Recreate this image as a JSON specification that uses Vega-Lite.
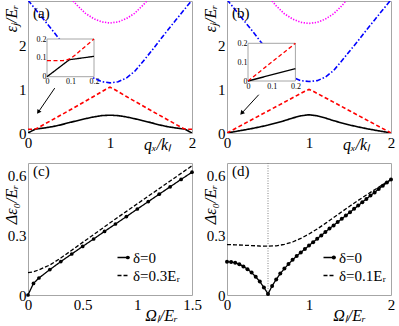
{
"$schema":"https://vega.github.io/schema/vega-lite/v6.json",
"autosize":{"type":"none"},
"padding":{"left":28,"top":1,"right":371,"bottom":325},
"background":"white",
"datasets":{
"a_main":[
{"q":0,"e":0,"j":1},{"q":0.05,"e":0.05,"j":1},{"q":0.09,"e":0.088,"j":1},{"q":0.2,"e":0.115,"j":1},{"q":0.3,"e":0.145,"j":1},{"q":0.4,"e":0.185,"j":1},{"q":0.5,"e":0.235,"j":1},{"q":0.6,"e":0.28,"j":1},{"q":0.7,"e":0.325,"j":1},{"q":0.8,"e":0.365,"j":1},{"q":0.9,"e":0.395,"j":1},{"q":1,"e":0.405,"j":1},{"q":1.1,"e":0.395,"j":1},{"q":1.2,"e":0.365,"j":1},{"q":1.3,"e":0.325,"j":1},{"q":1.4,"e":0.28,"j":1},{"q":1.5,"e":0.235,"j":1},{"q":1.6,"e":0.185,"j":1},{"q":1.7,"e":0.145,"j":1},{"q":1.8,"e":0.115,"j":1},{"q":1.91,"e":0.088,"j":1},{"q":1.95,"e":0.05,"j":1},{"q":2,"e":0,"j":1},
{"q":0,"e":0.085,"j":2},{"q":0.05,"e":0.085,"j":2},{"q":0.07,"e":0.087,"j":2},{"q":0.09,"e":0.092,"j":2},{"q":0.11,"e":0.105,"j":2},{"q":0.2,"e":0.2,"j":2},{"q":0.5,"e":0.51,"j":2},{"q":0.8,"e":0.83,"j":2},{"q":0.9,"e":0.94,"j":2},{"q":0.95,"e":0.995,"j":2},{"q":1,"e":1.04,"j":2},{"q":1.05,"e":0.995,"j":2},{"q":1.1,"e":0.94,"j":2},{"q":1.2,"e":0.83,"j":2},{"q":1.5,"e":0.51,"j":2},{"q":1.8,"e":0.2,"j":2},{"q":1.89,"e":0.105,"j":2},{"q":1.91,"e":0.092,"j":2},{"q":1.93,"e":0.087,"j":2},{"q":1.95,"e":0.085,"j":2},{"q":2,"e":0.085,"j":2},
{"q":0,"e":3.02,"j":3},{"q":0.1,"e":2.79,"j":3},{"q":0.2,"e":2.56,"j":3},{"q":0.3,"e":2.33,"j":3},{"q":0.4,"e":2.09,"j":3},{"q":0.5,"e":1.85,"j":3},{"q":0.6,"e":1.62,"j":3},{"q":0.7,"e":1.4,"j":3},{"q":0.8,"e":1.25,"j":3},{"q":0.9,"e":1.165,"j":3},{"q":1,"e":1.14,"j":3},{"q":1.1,"e":1.165,"j":3},{"q":1.2,"e":1.25,"j":3},{"q":1.3,"e":1.4,"j":3},{"q":1.4,"e":1.62,"j":3},{"q":1.5,"e":1.85,"j":3},{"q":1.6,"e":2.09,"j":3},{"q":1.7,"e":2.33,"j":3},{"q":1.8,"e":2.56,"j":3},{"q":1.9,"e":2.79,"j":3},{"q":2,"e":3.02,"j":3},
{"q":0.55,"e":3.0,"j":4},{"q":0.6,"e":2.9,"j":4},{"q":0.7,"e":2.72,"j":4},{"q":0.8,"e":2.6,"j":4},{"q":0.9,"e":2.525,"j":4},{"q":1,"e":2.5,"j":4},{"q":1.1,"e":2.525,"j":4},{"q":1.2,"e":2.6,"j":4},{"q":1.3,"e":2.72,"j":4},{"q":1.4,"e":2.9,"j":4},{"q":1.45,"e":3.0,"j":4}
],
"a_inset":[
{"q":0,"e":0,"j":1},{"q":0.095,"e":0.09,"j":1},{"q":0.2,"e":0.108,"j":1},
{"q":0,"e":0.085,"j":2},{"q":0.05,"e":0.085,"j":2},{"q":0.07,"e":0.086,"j":2},{"q":0.085,"e":0.089,"j":2},{"q":0.1,"e":0.096,"j":2},{"q":0.12,"e":0.115,"j":2},{"q":0.2,"e":0.2,"j":2}
],
"b_main":[
{"q":0,"e":0,"j":1},{"q":0.1,"e":0.033,"j":1},{"q":0.2,"e":0.066,"j":1},{"q":0.3,"e":0.1,"j":1},{"q":0.4,"e":0.138,"j":1},{"q":0.5,"e":0.18,"j":1},{"q":0.6,"e":0.228,"j":1},{"q":0.7,"e":0.28,"j":1},{"q":0.8,"e":0.34,"j":1},{"q":0.9,"e":0.39,"j":1},{"q":1,"e":0.415,"j":1},{"q":1.1,"e":0.39,"j":1},{"q":1.2,"e":0.34,"j":1},{"q":1.3,"e":0.28,"j":1},{"q":1.4,"e":0.228,"j":1},{"q":1.5,"e":0.18,"j":1},{"q":1.6,"e":0.138,"j":1},{"q":1.7,"e":0.1,"j":1},{"q":1.8,"e":0.066,"j":1},{"q":1.9,"e":0.033,"j":1},{"q":2,"e":0,"j":1},
{"q":0,"e":0,"j":2},{"q":0.5,"e":0.5,"j":2},{"q":0.9,"e":0.9,"j":2},{"q":0.95,"e":0.95,"j":2},{"q":1,"e":0.99,"j":2},{"q":1.05,"e":0.95,"j":2},{"q":1.1,"e":0.9,"j":2},{"q":1.5,"e":0.5,"j":2},{"q":2,"e":0,"j":2},
{"q":0,"e":3.03,"j":3},{"q":0.1,"e":2.8,"j":3},{"q":0.2,"e":2.57,"j":3},{"q":0.3,"e":2.34,"j":3},{"q":0.4,"e":2.1,"j":3},{"q":0.5,"e":1.87,"j":3},{"q":0.6,"e":1.64,"j":3},{"q":0.7,"e":1.42,"j":3},{"q":0.8,"e":1.27,"j":3},{"q":0.9,"e":1.19,"j":3},{"q":1,"e":1.17,"j":3},{"q":1.1,"e":1.19,"j":3},{"q":1.2,"e":1.27,"j":3},{"q":1.3,"e":1.42,"j":3},{"q":1.4,"e":1.64,"j":3},{"q":1.5,"e":1.87,"j":3},{"q":1.6,"e":2.1,"j":3},{"q":1.7,"e":2.34,"j":3},{"q":1.8,"e":2.57,"j":3},{"q":1.9,"e":2.8,"j":3},{"q":2,"e":3.03,"j":3},
{"q":0.55,"e":3.0,"j":4},{"q":0.6,"e":2.89,"j":4},{"q":0.7,"e":2.71,"j":4},{"q":0.8,"e":2.59,"j":4},{"q":0.9,"e":2.515,"j":4},{"q":1,"e":2.49,"j":4},{"q":1.1,"e":2.515,"j":4},{"q":1.2,"e":2.59,"j":4},{"q":1.3,"e":2.71,"j":4},{"q":1.4,"e":2.89,"j":4},{"q":1.45,"e":3.0,"j":4}
],
"b_inset":[
{"q":0,"e":0,"j":1},{"q":0.2,"e":0.065,"j":1},
{"q":0,"e":0,"j":2},{"q":0.2,"e":0.2,"j":2}
],
"c":[
{"w":0,"d":0,"s":"δ=0"},{"w":0.05,"d":0.058,"s":"δ=0"},{"w":0.1,"d":0.085,"s":"δ=0"},{"w":0.2,"d":0.127,"s":"δ=0"},{"w":0.3,"d":0.167,"s":"δ=0"},{"w":0.4,"d":0.205,"s":"δ=0"},{"w":0.5,"d":0.243,"s":"δ=0"},{"w":0.6,"d":0.28,"s":"δ=0"},{"w":0.7,"d":0.318,"s":"δ=0"},{"w":0.8,"d":0.355,"s":"δ=0"},{"w":0.9,"d":0.392,"s":"δ=0"},{"w":1.0,"d":0.43,"s":"δ=0"},{"w":1.1,"d":0.467,"s":"δ=0"},{"w":1.2,"d":0.504,"s":"δ=0"},{"w":1.3,"d":0.541,"s":"δ=0"},{"w":1.4,"d":0.578,"s":"δ=0"},{"w":1.5,"d":0.614,"s":"δ=0"},
{"w":0,"d":0.112,"s":"δ=0.3Eᵣ"},{"w":0.05,"d":0.116,"s":"δ=0.3Eᵣ"},{"w":0.1,"d":0.126,"s":"δ=0.3Eᵣ"},{"w":0.2,"d":0.15,"s":"δ=0.3Eᵣ"},{"w":0.3,"d":0.185,"s":"δ=0.3Eᵣ"},{"w":0.4,"d":0.224,"s":"δ=0.3Eᵣ"},{"w":0.5,"d":0.263,"s":"δ=0.3Eᵣ"},{"w":0.6,"d":0.302,"s":"δ=0.3Eᵣ"},{"w":0.7,"d":0.341,"s":"δ=0.3Eᵣ"},{"w":0.8,"d":0.38,"s":"δ=0.3Eᵣ"},{"w":0.9,"d":0.418,"s":"δ=0.3Eᵣ"},{"w":1.0,"d":0.456,"s":"δ=0.3Eᵣ"},{"w":1.1,"d":0.494,"s":"δ=0.3Eᵣ"},{"w":1.2,"d":0.532,"s":"δ=0.3Eᵣ"},{"w":1.3,"d":0.57,"s":"δ=0.3Eᵣ"},{"w":1.4,"d":0.608,"s":"δ=0.3Eᵣ"},{"w":1.5,"d":0.646,"s":"δ=0.3Eᵣ"}
],
"d":[
{"w":0,"d":0.166,"s":"δ=0"},{"w":0.05,"d":0.165,"s":"δ=0"},{"w":0.1,"d":0.161,"s":"δ=0"},{"w":0.15,"d":0.154,"s":"δ=0"},{"w":0.2,"d":0.143,"s":"δ=0"},{"w":0.25,"d":0.129,"s":"δ=0"},{"w":0.3,"d":0.112,"s":"δ=0"},{"w":0.35,"d":0.091,"s":"δ=0"},{"w":0.4,"d":0.067,"s":"δ=0"},{"w":0.45,"d":0.038,"s":"δ=0"},{"w":0.5,"d":0.005,"s":"δ=0"},{"w":0.55,"d":0.045,"s":"δ=0"},{"w":0.6,"d":0.078,"s":"δ=0"},{"w":0.65,"d":0.107,"s":"δ=0"},{"w":0.7,"d":0.132,"s":"δ=0"},{"w":0.75,"d":0.155,"s":"δ=0"},{"w":0.8,"d":0.176,"s":"δ=0"},{"w":0.85,"d":0.195,"s":"δ=0"},{"w":0.9,"d":0.213,"s":"δ=0"},{"w":0.95,"d":0.23,"s":"δ=0"},{"w":1.0,"d":0.247,"s":"δ=0"},{"w":1.05,"d":0.264,"s":"δ=0"},{"w":1.1,"d":0.281,"s":"δ=0"},{"w":1.15,"d":0.298,"s":"δ=0"},{"w":1.2,"d":0.315,"s":"δ=0"},{"w":1.25,"d":0.332,"s":"δ=0"},{"w":1.3,"d":0.348,"s":"δ=0"},{"w":1.35,"d":0.365,"s":"δ=0"},{"w":1.4,"d":0.381,"s":"δ=0"},{"w":1.45,"d":0.398,"s":"δ=0"},{"w":1.5,"d":0.414,"s":"δ=0"},{"w":1.55,"d":0.431,"s":"δ=0"},{"w":1.6,"d":0.447,"s":"δ=0"},{"w":1.65,"d":0.464,"s":"δ=0"},{"w":1.7,"d":0.48,"s":"δ=0"},{"w":1.75,"d":0.497,"s":"δ=0"},{"w":1.8,"d":0.513,"s":"δ=0"},{"w":1.85,"d":0.53,"s":"δ=0"},{"w":1.9,"d":0.546,"s":"δ=0"},{"w":1.95,"d":0.562,"s":"δ=0"},{"w":2.0,"d":0.578,"s":"δ=0"},
{"w":0,"d":0.252,"s":"δ=0.1Eᵣ"},{"w":0.1,"d":0.251,"s":"δ=0.1Eᵣ"},{"w":0.2,"d":0.249,"s":"δ=0.1Eᵣ"},{"w":0.3,"d":0.247,"s":"δ=0.1Eᵣ"},{"w":0.4,"d":0.245,"s":"δ=0.1Eᵣ"},{"w":0.5,"d":0.244,"s":"δ=0.1Eᵣ"},{"w":0.6,"d":0.246,"s":"δ=0.1Eᵣ"},{"w":0.7,"d":0.253,"s":"δ=0.1Eᵣ"},{"w":0.8,"d":0.265,"s":"δ=0.1Eᵣ"},{"w":0.9,"d":0.283,"s":"δ=0.1Eᵣ"},{"w":1.0,"d":0.305,"s":"δ=0.1Eᵣ"},{"w":1.1,"d":0.33,"s":"δ=0.1Eᵣ"},{"w":1.2,"d":0.358,"s":"δ=0.1Eᵣ"},{"w":1.3,"d":0.387,"s":"δ=0.1Eᵣ"},{"w":1.4,"d":0.416,"s":"δ=0.1Eᵣ"},{"w":1.5,"d":0.445,"s":"δ=0.1Eᵣ"},{"w":1.6,"d":0.473,"s":"δ=0.1Eᵣ"},{"w":1.7,"d":0.5,"s":"δ=0.1Eᵣ"},{"w":1.8,"d":0.526,"s":"δ=0.1Eᵣ"},{"w":1.9,"d":0.552,"s":"δ=0.1Eᵣ"},{"w":2.0,"d":0.578,"s":"δ=0.1Eᵣ"}
]
},
"columns":2,
"spacing":{"row":30,"column":35},
"bounds":"flush",
"resolve":{"legend":{"strokeDash":"independent","shape":"independent"},"scale":{"strokeDash":"independent","shape":"independent"}},
"concat":[
{
"width":164,"height":132,
"title":{"text":"(a)","anchor":"start","frame":"group","orient":"top","offset":-17,"dx":5,"dy":14.5,"baseline":"alphabetic"},
"layer":[
 {"layer":[
  {"data":{"name":"a_main"},"mark":{"type":"line","clip":true,"strokeWidth":1.6},
   "encoding":{
    "x":{"field":"q","type":"quantitative","scale":{"domain":[0,2],"nice":false,"zero":false},"axis":{"values":[0,1,2],"format":"~g","title":"qₓ/kₗ","titleX":129,"titleY":16,"titleAlign":"center","titleBaseline":"alphabetic"}},
    "y":{"field":"e","type":"quantitative","scale":{"domain":[0,3],"nice":false,"zero":false},"axis":{"values":[0,1,2],"format":"~g","title":"εⱼ/Eᵣ","titleX":-17,"titleY":17,"titleAlign":"center","titleBaseline":"middle","titleAngle":-90}},
    "color":{"field":"j","type":"nominal","scale":{"domain":[1,2,3,4],"range":["#000000","#ff0000","#0000ff","#ff00ff"]},"legend":null},
    "strokeDash":{"field":"j","type":"nominal","scale":{"domain":[1,2,3,4],"range":[[1,0],[4,2.5],[5,2,1.5,2],[1.3,1.5]]},"legend":null}
   }},
  {"data":{"values":[{}]},"mark":{"type":"rule","color":"#000","strokeWidth":1},"encoding":{"x":{"datum":0.326},"y":{"datum":1.02},"x2":{"datum":0.135},"y2":{"datum":0.5}}},
  {"data":{"values":[{}]},"mark":{"type":"point","shape":"triangle","angle":214,"filled":true,"size":24,"color":"#000","opacity":1},"encoding":{"x":{"datum":0.13},"y":{"datum":0.49}}}
 ]},
 {"layer":[
  {"data":{"values":[{}]},"mark":{"type":"rect","fill":"#fff","stroke":"#a6a6a6","strokeWidth":1},
   "encoding":{
    "x":{"datum":0,"type":"quantitative","scale":{"domain":[0,0.2],"range":[19,66],"nice":false,"zero":false},"axis":{"orient":"bottom","offset":-56.3,"values":[0,0.1,0.2],"format":"~g","labelFontSize":8,"labelPadding":1,"title":null}},
    "x2":{"datum":0.2},
    "y":{"datum":0,"type":"quantitative","scale":{"domain":[0,0.2],"range":[75.7,38],"nice":false,"zero":false},"axis":{"orient":"left","offset":-19,"values":[0,0.1,0.2],"format":"~g","labelFontSize":8,"labelPadding":1,"title":null}},
    "y2":{"datum":0.2}}},
  {"data":{"name":"a_inset"},"mark":{"type":"line","strokeWidth":1.3},
   "encoding":{
    "x":{"field":"q","type":"quantitative","axis":{"orient":"bottom","offset":-56.3,"values":[0,0.1,0.2],"format":"~g","labelFontSize":8,"labelPadding":1,"title":null}},
    "y":{"field":"e","type":"quantitative","axis":{"orient":"left","offset":-19,"values":[0,0.1,0.2],"format":"~g","labelFontSize":8,"labelPadding":1,"title":null}},
    "color":{"field":"j","type":"nominal","legend":null},
    "strokeDash":{"field":"j","type":"nominal","legend":null}}}
 ]}
],
"resolve":{"scale":{"x":"independent","y":"independent"},"axis":{"x":"independent","y":"independent"}}
},
{
"width":164,"height":132,
"title":{"text":"(b)","anchor":"start","frame":"group","orient":"top","offset":-17,"dx":5,"dy":14.5,"baseline":"alphabetic"},
"layer":[
 {"layer":[
  {"data":{"name":"b_main"},"mark":{"type":"line","clip":true,"strokeWidth":1.6},
   "encoding":{
    "x":{"field":"q","type":"quantitative","scale":{"domain":[0,2],"nice":false,"zero":false},"axis":{"values":[0,1,2],"format":"~g","title":"qₓ/kₗ","titleX":129,"titleY":16,"titleAlign":"center","titleBaseline":"alphabetic"}},
    "y":{"field":"e","type":"quantitative","scale":{"domain":[0,3],"nice":false,"zero":false},"axis":{"values":[0,1,2],"format":"~g","title":"εⱼ/Eᵣ","titleX":-17,"titleY":17,"titleAlign":"center","titleBaseline":"middle","titleAngle":-90}},
    "color":{"field":"j","type":"nominal","scale":{"domain":[1,2,3,4],"range":["#000000","#ff0000","#0000ff","#ff00ff"]},"legend":null},
    "strokeDash":{"field":"j","type":"nominal","scale":{"domain":[1,2,3,4],"range":[[1,0],[4,2.5],[5,2,1.5,2],[1.3,1.5]]},"legend":null}
   }},
  {"data":{"values":[{}]},"mark":{"type":"rule","color":"#000","strokeWidth":1},"encoding":{"x":{"datum":0.387},"y":{"datum":0.87},"x2":{"datum":0.19},"y2":{"datum":0.47}}},
  {"data":{"values":[{}]},"mark":{"type":"point","shape":"triangle","angle":222,"filled":true,"size":24,"color":"#000","opacity":1},"encoding":{"x":{"datum":0.185},"y":{"datum":0.465}}}
 ]},
 {"layer":[
  {"data":{"values":[{}]},"mark":{"type":"rect","fill":"#fff","stroke":"#a6a6a6","strokeWidth":1},
   "encoding":{
    "x":{"datum":0,"type":"quantitative","scale":{"domain":[0,0.2],"range":[21,68.4],"nice":false,"zero":false},"axis":{"orient":"bottom","offset":-52,"values":[0,0.1,0.2],"format":"~g","labelFontSize":8,"labelPadding":1,"title":null}},
    "x2":{"datum":0.2},
    "y":{"datum":0,"type":"quantitative","scale":{"domain":[0,0.2],"range":[80,42.3],"nice":false,"zero":false},"axis":{"orient":"left","offset":-21,"values":[0,0.1,0.2],"format":"~g","labelFontSize":8,"labelPadding":1,"title":null}},
    "y2":{"datum":0.2}}},
  {"data":{"name":"b_inset"},"mark":{"type":"line","strokeWidth":1.3},
   "encoding":{
    "x":{"field":"q","type":"quantitative","axis":{"orient":"bottom","offset":-52,"values":[0,0.1,0.2],"format":"~g","labelFontSize":8,"labelPadding":1,"title":null}},
    "y":{"field":"e","type":"quantitative","axis":{"orient":"left","offset":-21,"values":[0,0.1,0.2],"format":"~g","labelFontSize":8,"labelPadding":1,"title":null}},
    "color":{"field":"j","type":"nominal","legend":null},
    "strokeDash":{"field":"j","type":"nominal","legend":null}}}
 ]}
],
"resolve":{"scale":{"x":"independent","y":"independent"},"axis":{"x":"independent","y":"independent"}}
},
{
"width":164,"height":132,
"title":{"text":"(c)","anchor":"start","frame":"group","orient":"top","offset":-17,"dx":5,"dy":11,"baseline":"alphabetic"},
"data":{"name":"c"},
"layer":[
 {"mark":{"type":"line","strokeWidth":1.3,"color":"#000"},
  "encoding":{
   "x":{"field":"w","type":"quantitative","scale":{"domain":[0,1.5],"nice":false,"zero":false},"axis":{"values":[0,0.5,1,1.5],"format":"~g","title":"Ωₗ/Eᵣ","titleX":133,"titleY":25,"titleAlign":"center","titleBaseline":"alphabetic"}},
   "y":{"field":"d","type":"quantitative","scale":{"domain":[0,0.66],"nice":false,"zero":false},"axis":{"values":[0,0.3,0.6],"format":"~g","title":"Δε₀/Eᵣ","titleX":-17,"titleY":41,"titleAlign":"center","titleBaseline":"middle","titleAngle":-90}},
   "strokeDash":{"field":"s","type":"nominal","scale":{"domain":["δ=0","δ=0.3Eᵣ"],"range":[[1,0],[4,2]]},
     "legend":{"orient":"none","legendX":88,"legendY":87,"title":null,"symbolType":"stroke","symbolSize":144,"symbolStrokeColor":"#000","symbolStrokeWidth":1.3,"labelFontSize":15,"labelOffset":2,"rowPadding":2,"padding":0}}
  }},
 {"transform":[{"filter":{"field":"s","equal":"δ=0"}}],"mark":{"type":"point","filled":true,"size":14,"color":"#000","opacity":1},
  "encoding":{"x":{"field":"w","type":"quantitative"},"y":{"field":"d","type":"quantitative"},
   "shape":{"field":"s","type":"nominal","scale":{"range":["circle"]},
     "legend":{"orient":"none","legendX":92.3,"legendY":87,"title":null,"symbolSize":14,"symbolFillColor":"#000","symbolStrokeColor":"#000","symbolStrokeWidth":0,"labelFontSize":15,"labelExpr":"''","labelOffset":2,"rowPadding":2,"padding":0}}}}
]
},
{
"width":164,"height":132,
"title":{"text":"(d)","anchor":"start","frame":"group","orient":"top","offset":-17,"dx":5,"dy":11,"baseline":"alphabetic"},
"data":{"name":"d"},
"layer":[
 {"data":{"values":[{}]},"mark":{"type":"rule","color":"#808080","strokeWidth":1,"strokeDash":[1,1.5]},"encoding":{"x":{"datum":0.5}}},
 {"mark":{"type":"line","strokeWidth":1.3,"color":"#000"},
  "encoding":{
   "x":{"field":"w","type":"quantitative","scale":{"domain":[0,2],"nice":false,"zero":false},"axis":{"values":[0,1,2],"format":"~g","title":"Ωₗ/Eᵣ","titleX":122,"titleY":25,"titleAlign":"center","titleBaseline":"alphabetic"}},
   "y":{"field":"d","type":"quantitative","scale":{"domain":[0,0.66],"nice":false,"zero":false},"axis":{"values":[0,0.3,0.6],"format":"~g","title":"Δε₀/Eᵣ","titleX":-17,"titleY":41,"titleAlign":"center","titleBaseline":"middle","titleAngle":-90}},
   "strokeDash":{"field":"s","type":"nominal","scale":{"domain":["δ=0","δ=0.1Eᵣ"],"range":[[1,0],[4,2]]},
     "legend":{"orient":"none","legendX":95,"legendY":87,"title":null,"symbolType":"stroke","symbolSize":144,"symbolStrokeColor":"#000","symbolStrokeWidth":1.3,"labelFontSize":15,"labelOffset":2,"rowPadding":2,"padding":0}}
  }},
 {"transform":[{"filter":{"field":"s","equal":"δ=0"}}],"mark":{"type":"point","filled":true,"size":16,"color":"#000","opacity":1},
  "encoding":{"x":{"field":"w","type":"quantitative"},"y":{"field":"d","type":"quantitative"},
   "shape":{"field":"s","type":"nominal","scale":{"range":["circle"]},
     "legend":{"orient":"none","legendX":99.3,"legendY":87,"title":null,"symbolSize":16,"symbolFillColor":"#000","symbolStrokeColor":"#000","symbolStrokeWidth":0,"labelFontSize":15,"labelExpr":"''","labelOffset":2,"rowPadding":2,"padding":0}}}}
]
}
],
"config":{
 "font":"Liberation Serif",
 "view":{"stroke":"#a6a6a6","strokeWidth":1},
 "axis":{"domain":false,"ticks":false,"grid":false,"labelFont":"Liberation Serif","labelFontSize":15,"labelColor":"#000","labelFlush":false,"labelOverlap":false,"labelPadding":2,"titleFont":"Liberation Serif","titleFontSize":16,"titleFontStyle":"italic","titleFontWeight":"normal","titleColor":"#000"},
 "title":{"font":"Liberation Serif","fontSize":15,"fontWeight":"normal","color":"#000"},
 "legend":{"labelFont":"Liberation Serif","labelColor":"#000"}
}
}
